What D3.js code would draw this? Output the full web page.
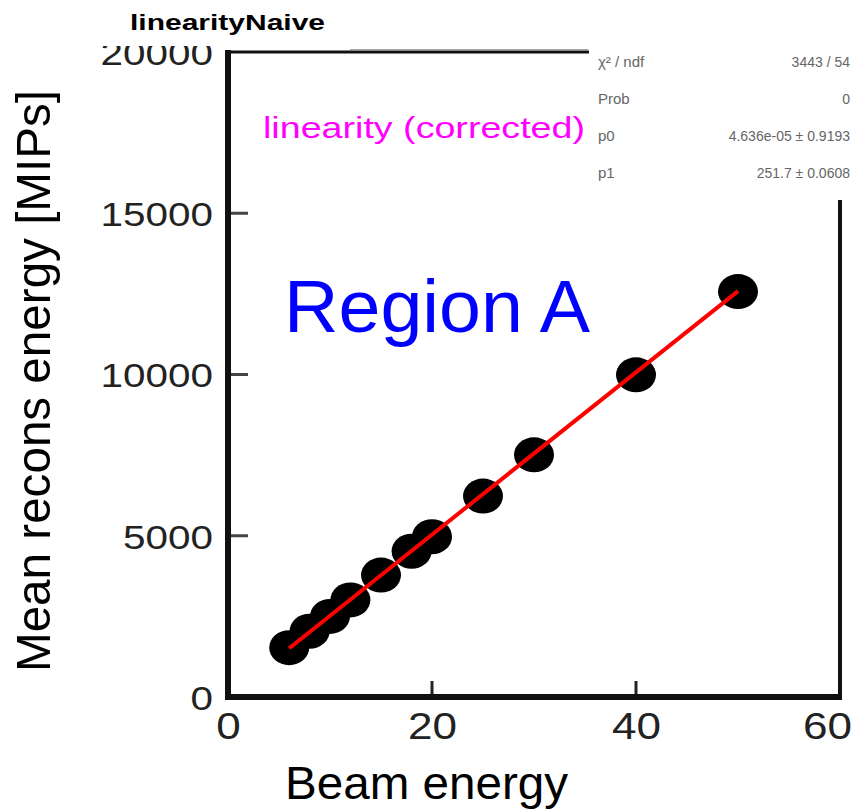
<!DOCTYPE html>
<html>
<head>
<meta charset="utf-8">
<script src="https://cdn.jsdelivr.net/npm/d3@7"></script>
<style>
  html, body { margin: 0; padding: 0; background: #fff; overflow: hidden; }
  svg { display: block; font-family: "Liberation Sans", Arial, sans-serif; }
</style>
</head>
<body>
<svg id="chart" width="853" height="811"></svg>
<script>
// Beam energies and mean reconstructed energies
const beamEnergy = [6, 8, 10, 12, 15, 18, 20, 25, 30, 40, 50];
const meanRecons = [1530, 2040, 2500, 3010, 3780, 4520, 4970, 6230, 7510, 9990, 12570];

// Fit result: pol1 (p0 + p1 * x)
const fitP0 = 4.636e-05;
const fitP1 = 251.7;
const statLabels = ["\u03c7\u00b2 / ndf", "Prob", "p0", "p1"];
const statValues = ["3443 / 54", "0", "4.636e-05 \u00b1 0.9193", "251.7 \u00b1 0.0608"];

const xTicks = [0, 20, 40, 60];
const yTicks = [0, 5000, 10000, 15000, 20000];

const svg = d3.select("#chart");

const x = d3.scaleLinear().domain([0, 60]).range([228, 840]);
const y = d3.scaleLinear().domain([0, 20000]).range([697, 52]);

// per-character width for the stretched tick label font
const charW = 22.5;

// y axis
const yAxis = svg.append("g")
  .attr("transform", `translate(${x(0)},0)`)
  .call(d3.axisLeft(y).tickValues(yTicks).tickSize(0).tickPadding(15).tickFormat(d3.format("d")));
yAxis.select(".domain").remove();
yAxis.selectAll("text")
  .attr("font-size", 34)
  .attr("fill", "#222")
  .attr("dy", "0.36em")
  .attr("font-family", "Liberation Sans, Arial, sans-serif")
  .attr("textLength", d => String(d).length * charW)
  .attr("lengthAdjust", "spacingAndGlyphs");

// inner y tick marks
svg.append("g").selectAll("line")
  .data(yTicks.filter(d => d > 0 && d < 20000))
  .join("line")
  .attr("x1", x(0)).attr("x2", x(0) + 20)
  .attr("y1", d => y(d)).attr("y2", d => y(d))
  .attr("stroke", "#444").attr("stroke-width", 3);

// x axis
const xAxis = svg.append("g")
  .attr("transform", `translate(0,${y(0)})`)
  .call(d3.axisBottom(x).tickValues(xTicks).tickSize(0).tickPadding(16).tickFormat(d3.format("d")));
xAxis.select(".domain").remove();
xAxis.selectAll("text")
  .attr("font-size", 36)
  .attr("fill", "#222")
  .attr("font-family", "Liberation Sans, Arial, sans-serif")
  .attr("textLength", d => String(d).length * 24.5)
  .attr("lengthAdjust", "spacingAndGlyphs");
// keep the last label inside the page edge
xAxis.selectAll("text").filter(d => d === 60).attr("dx", -13);

// inner x tick marks
svg.append("g").selectAll("line")
  .data(xTicks.filter(d => d > 0 && d < 60))
  .join("line")
  .attr("x1", d => x(d)).attr("x2", d => x(d))
  .attr("y1", y(0)).attr("y2", y(0) - 16)
  .attr("stroke", "#222").attr("stroke-width", 3);

// frame
svg.append("line").attr("x1", x(0)).attr("x2", x(0)).attr("y1", y(20000) - 2).attr("y2", y(0) + 3)
  .attr("stroke", "#111").attr("stroke-width", 6);
svg.append("line").attr("x1", x(0) - 3).attr("x2", x(60) + 2).attr("y1", y(0)).attr("y2", y(0))
  .attr("stroke", "#111").attr("stroke-width", 6);
svg.append("line").attr("x1", x(60)).attr("x2", x(60)).attr("y1", y(20000)).attr("y2", y(0))
  .attr("stroke", "#111").attr("stroke-width", 4);
svg.append("line").attr("x1", x(0)).attr("x2", x(60)).attr("y1", y(20000)).attr("y2", y(20000))
  .attr("stroke", "#111").attr("stroke-width", 3);
svg.append("line").attr("x1", 350).attr("x2", 588).attr("y1", y(20000) - 2).attr("y2", y(20000) - 2)
  .attr("stroke", "#888").attr("stroke-width", 1.5);

// data markers
svg.append("g").selectAll("ellipse")
  .data(beamEnergy.map((e, i) => ({ e, v: meanRecons[i] })))
  .join("ellipse")
  .attr("cx", d => x(d.e))
  .attr("cy", d => y(d.v))
  .attr("rx", 20)
  .attr("ry", 17.5)
  .attr("fill", "#000");

// fit line
const fitRange = [d3.min(beamEnergy), d3.max(beamEnergy)];
svg.append("line")
  .attr("x1", x(fitRange[0])).attr("y1", y(fitP0 + fitP1 * fitRange[0]))
  .attr("x2", x(fitRange[1])).attr("y2", y(fitP0 + fitP1 * fitRange[1]))
  .attr("stroke", "#ff0000").attr("stroke-width", 4);

// stats box
const stats = svg.append("g");
stats.append("rect").attr("x", 589).attr("y", 44).attr("width", 270).attr("height", 156).attr("fill", "#fff");
stats.selectAll("text.lab")
  .data(statLabels)
  .join("text")
  .attr("class", "lab")
  .attr("x", 598)
  .attr("y", (d, i) => 67 + i * 37)
  .attr("font-size", 15)
  .attr("fill", "#666")
  .text(d => d);
stats.selectAll("text.val")
  .data(statValues)
  .join("text")
  .attr("class", "val")
  .attr("x", 850)
  .attr("y", (d, i) => 67 + i * 37)
  .attr("text-anchor", "end")
  .attr("font-size", 14)
  .attr("fill", "#666")
  .text(d => d);

// title
svg.append("rect").attr("x", 95).attr("y", 0).attr("width", 250).attr("height", 46).attr("fill", "#fff");
svg.append("text")
  .attr("x", 130).attr("y", 30)
  .attr("font-size", 22).attr("font-weight", "bold").attr("fill", "#000")
  .attr("textLength", 195).attr("lengthAdjust", "spacingAndGlyphs")
  .text("linearityNaive");

// legend-like label
svg.append("text")
  .attr("x", 263).attr("y", 138)
  .attr("font-size", 30).attr("fill", "#ff00ff")
  .attr("textLength", 322).attr("lengthAdjust", "spacingAndGlyphs")
  .text("linearity (corrected)");

// region label
svg.append("text")
  .attr("x", 284).attr("y", 332)
  .attr("font-size", 74).attr("fill", "#0000ff")
  .attr("textLength", 306).attr("lengthAdjust", "spacingAndGlyphs")
  .text("Region A");

// axis titles
svg.append("text")
  .attr("x", 285).attr("y", 799)
  .attr("font-size", 47).attr("fill", "#000")
  .attr("textLength", 283).attr("lengthAdjust", "spacingAndGlyphs")
  .text("Beam energy");

svg.append("text")
  .attr("transform", "translate(50,672) rotate(-90)")
  .attr("x", 0).attr("y", 0)
  .attr("font-size", 49).attr("fill", "#000")
  .attr("textLength", 582).attr("lengthAdjust", "spacingAndGlyphs")
  .text("Mean recons energy [MIPs]");
</script>
</body>
</html>
